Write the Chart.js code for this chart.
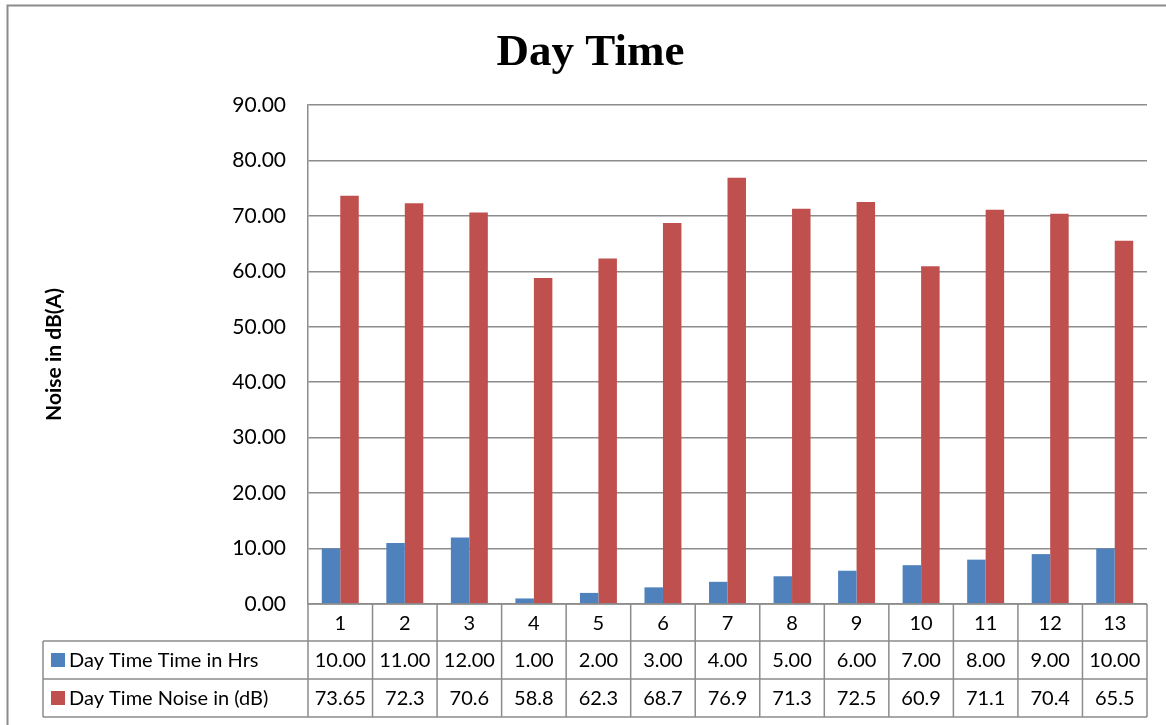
<!DOCTYPE html>
<html>
<head>
<meta charset="utf-8">
<script src="https://cdn.jsdelivr.net/npm/chart.js@4.4.1/dist/chart.umd.min.js"></script>
<style>
  html, body { margin: 0; padding: 0; background: #ffffff; }
  #c { display: block; }
</style>
</head>
<body>
<canvas id="c" width="1166" height="725"></canvas>
<script>
// ---- Data ----
const categories = ['1','2','3','4','5','6','7','8','9','10','11','12','13'];
const timeHrs = [10, 11, 12, 1, 2, 3, 4, 5, 6, 7, 8, 9, 10];
const timeHrsLabels = ['10.00','11.00','12.00','1.00','2.00','3.00','4.00','5.00','6.00','7.00','8.00','9.00','10.00'];
const noiseDb = [73.65, 72.3, 70.6, 58.8, 62.3, 68.7, 76.9, 71.3, 72.5, 60.9, 71.1, 70.4, 65.5];
const noiseDbLabels = ['73.65','72.3','70.6','58.8','62.3','68.7','76.9','71.3','72.5','60.9','71.1','70.4','65.5'];
const seriesNames = ['Day Time Time in Hrs', 'Day Time Noise in (dB)'];
const seriesColors = ['#4F81BD', '#C0504D'];
const titleText = 'Day Time';
const yTitle = 'Noise in dB(A)';

const GRID = '#8c8c8c';
const FONT = 'Lato, "Liberation Sans", sans-serif';

const frame = {
  id: 'frame',
  beforeDraw(chart) {
    const ctx = chart.ctx;
    ctx.save();
    ctx.fillStyle = '#ffffff';
    ctx.fillRect(0, 0, chart.width, chart.height);
    ctx.strokeStyle = GRID;
    ctx.lineWidth = 2;
    ctx.beginPath();
    ctx.moveTo(7.5, chart.height);
    ctx.lineTo(7.5, 5.5);
    ctx.lineTo(chart.width, 5.5);
    ctx.stroke();
    ctx.restore();
  }
};

const dataTable = {
  id: 'dataTable',
  afterDraw(chart) {
    const ctx = chart.ctx;
    const x = chart.scales.x;
    const area = chart.chartArea;
    const n = categories.length;
    const catW = (area.right - area.left) / n;
    const top = area.bottom;
    const rows = [top, top + 37, top + 75, top + 113];
    const tableLeft = 43;
    ctx.save();
    ctx.strokeStyle = GRID;
    ctx.lineWidth = 1.5;
    ctx.beginPath();
    ctx.moveTo(area.left, rows[0]); ctx.lineTo(area.right, rows[0]);
    for (let r = 1; r < rows.length; r++) {
      ctx.moveTo(tableLeft, rows[r]); ctx.lineTo(area.right, rows[r]);
    }
    for (let i = 0; i <= n; i++) {
      const px = area.left + i * catW;
      ctx.moveTo(px, rows[0]); ctx.lineTo(px, rows[3]);
    }
    ctx.moveTo(tableLeft, rows[1]); ctx.lineTo(tableLeft, rows[3]);
    ctx.stroke();

    ctx.fillStyle = '#000000';
    ctx.font = '20px ' + FONT;
    ctx.textAlign = 'center';
    ctx.textBaseline = 'middle';
    for (let i = 0; i < n; i++) {
      const cx = x.getPixelForValue(i);
      ctx.fillText(categories[i], cx, (rows[0] + rows[1]) / 2 + 1);
      ctx.fillText(timeHrsLabels[i], cx, (rows[1] + rows[2]) / 2 + 1);
      ctx.fillText(noiseDbLabels[i], cx, (rows[2] + rows[3]) / 2 + 1);
    }
    ctx.textAlign = 'left';
    for (let s = 0; s < 2; s++) {
      const cy = (rows[s + 1] + rows[s + 2]) / 2;
      ctx.fillStyle = seriesColors[s];
      ctx.fillRect(51, cy - 7, 14, 14);
      ctx.fillStyle = '#000000';
      ctx.fillText(seriesNames[s], 69, cy + 1);
    }
    ctx.restore();
  }
};

new Chart(document.getElementById('c'), {
  type: 'bar',
  data: {
    labels: categories,
    datasets: [
      { label: seriesNames[0], data: timeHrs, backgroundColor: seriesColors[0], borderWidth: 0 },
      { label: seriesNames[1], data: noiseDb, backgroundColor: seriesColors[1], borderWidth: 0 }
    ]
  },
  options: {
    responsive: false,
    animation: false,
    devicePixelRatio: 1,
    categoryPercentage: 0.573,
    barPercentage: 1.0,
    layout: { padding: { left: 34, right: 19, top: 0, bottom: 121 } },
    plugins: {
      legend: { display: false },
      tooltip: { enabled: false },
      title: {
        display: true,
        text: titleText,
        color: '#000000',
        font: { family: '"Liberation Serif", "Times New Roman", serif', size: 45, weight: 'bold', lineHeight: 1.2 },
        padding: { top: 26, bottom: 25 }
      }
    },
    scales: {
      x: { display: false },
      y: {
        min: 0,
        max: 90,
        afterFit(scale) { scale.width = 274; },
        ticks: {
          stepSize: 10,
          padding: 22,
          color: '#000000',
          font: { family: FONT, size: 21 },
          callback: (v) => Number(v).toFixed(2)
        },
        grid: { color: GRID, lineWidth: 1.5, drawTicks: false },
        border: { display: true, color: GRID, width: 1.5 },
        title: {
          display: true,
          text: yTitle,
          color: '#000000',
          font: { family: FONT, size: 21, weight: 'bold' },
          padding: { top: 8, bottom: 0 }
        }
      }
    }
  },
  plugins: [frame, dataTable]
});
</script>
</body>
</html>
